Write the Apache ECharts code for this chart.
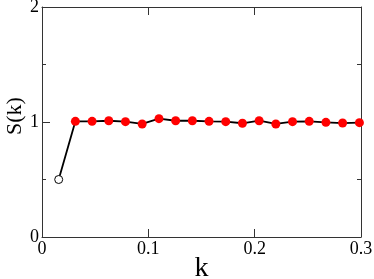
<!DOCTYPE html>
<html><head><meta charset="utf-8">
<script src="https://cdn.jsdelivr.net/npm/echarts@6/dist/echarts.min.js"></script>
<style>html,body{margin:0;padding:0;background:#fff}#c{width:374px;height:279px}</style>
</head><body><div id="c"></div>
<script>
const kValues = [0.0157,0.0314,0.0471,0.0628,0.0785,0.0942,0.1100,0.1257,0.1414,0.1571,0.1728,0.1885,0.2042,0.2199,0.2356,0.2513,0.2670,0.2827,0.2985];
const sValues = [0.50,1.006,1.006,1.011,1.003,0.983,1.029,1.011,1.011,1.006,1.003,0.989,1.011,0.983,1.003,1.006,0.997,0.991,0.994];
const xTicks = [0, 0.1, 0.2, 0.3];
const yTicks = [0, 1, 2];
const font = 'Liberation Serif';

const data = kValues.map((k, i) => {
  if (i === 0) return {value: [k, sValues[i]], symbolSize: 8, itemStyle: {color: '#fff', borderColor: '#000', borderWidth: 1}};
  return [k, sValues[i]];
});

const chart = echarts.init(document.getElementById('c'), null, {renderer: 'canvas'});
const axisLine = {show: true, onZero: false, lineStyle: {color: '#333', width: 1}};
chart.setOption({
  animation: false,
  grid: {left: 42, right: 13, top: 7, bottom: 42, containLabel: false, outerBoundsMode: 'none'},
  xAxis: [{
    type: 'value', min: 0, max: 0.3, interval: 0.1,
    axisLine: axisLine,
    axisTick: {inside: true, length: 8, lineStyle: {color: '#333'}},
    axisLabel: {fontFamily: font, fontSize: 18, color: '#000', margin: 3,
      formatter: v => xTicks.includes(Math.round(v*10)/10) ? String(Math.round(v*10)/10) : ''},
    splitLine: {show: false},
    name: 'k', nameLocation: 'middle', nameGap: 18, nameMoveOverlap: false,
    nameTextStyle: {fontFamily: font, fontSize: 28, color: '#000'}
  }, {
    type: 'value', position: 'top', min: 0, max: 0.3, interval: 0.1,
    axisLine: axisLine,
    axisTick: {inside: true, length: 8, lineStyle: {color: '#333'}},
    axisLabel: {show: false}, splitLine: {show: false}
  }],
  yAxis: [{
    type: 'value', min: 0, max: 2, interval: 1,
    axisLine: axisLine,
    axisTick: {inside: true, length: 8, lineStyle: {color: '#333'}},
    minorTick: {show: true, splitNumber: 2, length: 4, lineStyle: {color: '#333'}},
    axisLabel: {fontFamily: font, fontSize: 18, color: '#000', margin: 3,
      formatter: v => yTicks.includes(v) ? String(v) : ''},
    splitLine: {show: false},
    name: 'S(k)', nameLocation: 'middle', nameGap: 16, nameMoveOverlap: false,
    nameTextStyle: {fontFamily: font, fontSize: 22, color: '#000', padding: [0, 0, 0, 12]}
  }, {
    type: 'value', position: 'right', min: 0, max: 2, interval: 1,
    axisLine: axisLine,
    axisTick: {inside: true, length: 8, lineStyle: {color: '#333'}},
    minorTick: {show: true, splitNumber: 2, length: 4, lineStyle: {color: '#333'}},
    axisLabel: {show: false}, splitLine: {show: false}
  }],
  series: [{
    type: 'line', data: data, symbol: 'circle', symbolSize: 9,
    itemStyle: {color: '#ff0000'},
    lineStyle: {color: '#000', width: 1.8},
    z: 3
  }]
});
</script></body></html>
